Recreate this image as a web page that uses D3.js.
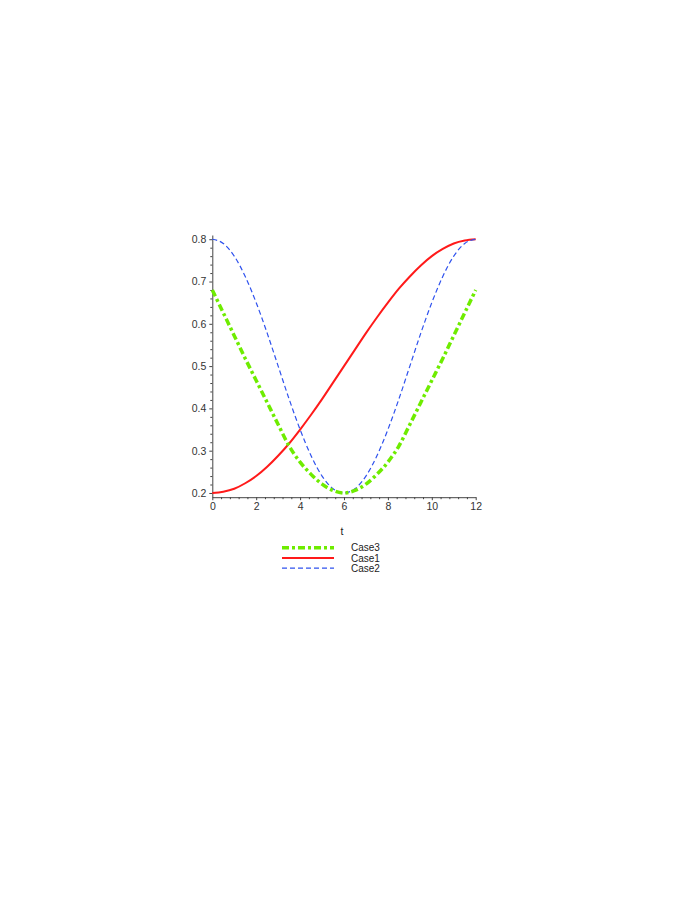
<!DOCTYPE html>
<html>
<head>
<meta charset="utf-8">
<script src="https://cdn.jsdelivr.net/npm/d3@7"></script>
<style>
  body { margin: 0; background: #fff; }
  text { font-family: "Liberation Sans", Arial, sans-serif; }
</style>
</head>
<body>
<div id="container"></div>
<script>
var T = [0, 0.5, 1, 1.5, 2, 2.5, 3, 3.5, 4, 4.5, 5, 5.5, 6,
         6.5, 7, 7.5, 8, 8.5, 9, 9.5, 10, 10.5, 11, 11.5, 12];

var CASE1 = [0.200, 0.203, 0.210, 0.223, 0.240, 0.262, 0.288, 0.317, 0.350, 0.385, 0.422, 0.461, 0.500,
             0.539, 0.578, 0.615, 0.650, 0.683, 0.712, 0.738, 0.760, 0.777, 0.790, 0.797, 0.800];

var CASE2 = [0.800, 0.790, 0.760, 0.712, 0.650, 0.578, 0.500, 0.422, 0.350, 0.288, 0.240, 0.210, 0.200,
             0.210, 0.240, 0.288, 0.350, 0.422, 0.500, 0.578, 0.650, 0.712, 0.760, 0.790, 0.800];

var CASE3 = [0.680, 0.626, 0.572, 0.518, 0.466, 0.414, 0.362, 0.311, 0.273, 0.244, 0.221, 0.206, 0.200,
             0.206, 0.221, 0.244, 0.273, 0.311, 0.362, 0.414, 0.466, 0.518, 0.572, 0.626, 0.680];

var X_TICKS = [0, 2, 4, 6, 8, 10, 12];
var X_MINOR = [0.4, 0.8, 1.2, 1.6, 2.4, 2.8, 3.2, 3.6, 4.4, 4.8, 5.2, 5.6, 6.4, 6.8, 7.2, 7.6,
               8.4, 8.8, 9.2, 9.6, 10.4, 10.8, 11.2, 11.6];
var Y_TICKS = [0.2, 0.3, 0.4, 0.5, 0.6, 0.7, 0.8];
var Y_MINOR = [0.22, 0.24, 0.26, 0.28, 0.32, 0.34, 0.36, 0.38, 0.42, 0.44, 0.46, 0.48,
               0.52, 0.54, 0.56, 0.58, 0.62, 0.64, 0.66, 0.68, 0.72, 0.74, 0.76, 0.78];

var LEGEND = ["Case3", "Case1", "Case2"];

var width = 674;
var height = 898;

var svg = d3.select("#container")
            .append("svg")
            .attr("width", width)
            .attr("height", height);

var xScale = d3.scaleLinear()
               .domain([0, 12])
               .range([212.3, 475.7]);

var yScale = d3.scaleLinear()
               .domain([0.19, 0.81])
               .range([497.2, 235]);

// minor ticks first, then the labelled axes on top
svg.append("g")
   .attr("transform", "translate(" + xScale(0) + ",0)")
   .call(d3.axisLeft(yScale).tickValues(Y_MINOR).tickSize(2).tickFormat(""))
   .call(g => g.select(".domain").remove());

svg.append("g")
   .attr("transform", "translate(0," + yScale(0.19) + ")")
   .call(d3.axisBottom(xScale).tickValues(X_MINOR).tickSize(2).tickFormat(""))
   .call(g => g.select(".domain").remove());

var yAxis = svg.append("g")
   .attr("id", "y-axis")
   .attr("transform", "translate(" + xScale(0) + ",0)")
   .call(d3.axisLeft(yScale).tickValues(Y_TICKS).tickSize(3).tickPadding(3)
           .tickSizeOuter(0).tickFormat(d3.format(".1f")));

var xAxis = svg.append("g")
   .attr("id", "x-axis")
   .attr("transform", "translate(0," + yScale(0.19) + ")")
   .call(d3.axisBottom(xScale).tickValues(X_TICKS).tickSize(3).tickPadding(2)
           .tickSizeOuter(0));

svg.selectAll(".tick line").attr("stroke", "#444");
svg.selectAll(".domain").attr("stroke", "#444");
svg.selectAll(".tick text")
   .style("font-size", "10.5px")
   .attr("fill", "#333");

var line = function(vals) {
  return d3.line()
           .x((d, i) => xScale(T[i]))
           .y((d) => yScale(d))
           .curve(d3.curveMonotoneX)(vals);
};

svg.append("path")
   .attr("d", line(CASE1))
   .attr("fill", "none")
   .attr("stroke", "#ff1a1a")
   .attr("stroke-width", 2);

svg.append("path")
   .attr("d", line(CASE2))
   .attr("fill", "none")
   .attr("stroke", "#2f52ee")
   .attr("stroke-width", 1.2)
   .attr("stroke-dasharray", "5,3");

svg.append("path")
   .attr("d", line(CASE3))
   .attr("fill", "none")
   .attr("stroke", "#6eec00")
   .attr("stroke-width", 3.5)
   .attr("stroke-dasharray", "7,3,3,3");

svg.append("text")
   .attr("x", 342)
   .attr("y", 535)
   .attr("text-anchor", "middle")
   .style("font-size", "10.5px")
   .attr("fill", "#222")
   .text("t");

// legend
var legendStyles = [
  { color: "#6eec00", w: 3.5, dash: "7,3,3,3" },
  { color: "#ff1a1a", w: 2, dash: null },
  { color: "#2f52ee", w: 1.2, dash: "5,3" }
];
var legendY = [547.8, 558, 568.2];

LEGEND.forEach(function(name, i) {
  svg.append("line")
     .attr("x1", 282)
     .attr("x2", 334)
     .attr("y1", legendY[i])
     .attr("y2", legendY[i])
     .attr("stroke", legendStyles[i].color)
     .attr("stroke-width", legendStyles[i].w)
     .attr("stroke-dasharray", legendStyles[i].dash);
  svg.append("text")
     .attr("x", 351)
     .attr("y", legendY[i] + 3.5)
     .style("font-size", "10px")
     .attr("fill", "#222")
     .text(name);
});
</script>
</body>
</html>
